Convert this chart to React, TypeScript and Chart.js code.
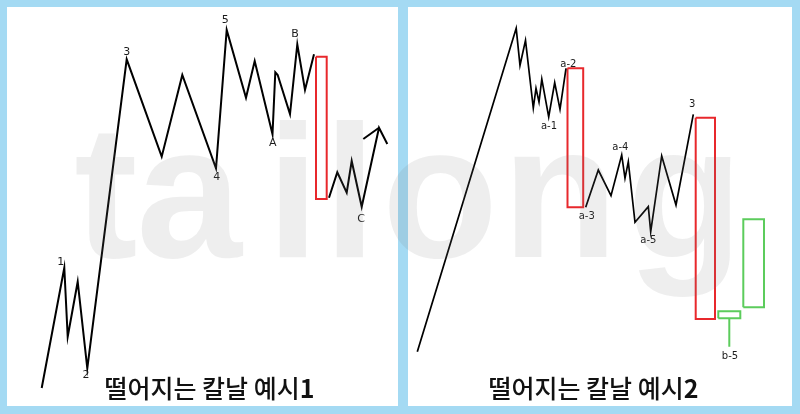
import React, { useEffect, useRef } from "react";
import { Chart, registerables } from "chart.js";

Chart.register(...registerables);

// ---------- Example 1: impulse 1-5, A-B, one large bearish candle, then C ----------
const ex1LegOneTime = [34.7, 57.3, 60.7, 70.7, 80.3, 119.7, 154.7, 175.3, 209, 219.7, 239, 247.7, 265.5, 268.3, 270.7, 283, 290.3, 298, 307];
const ex1LegOnePrice = [18, 138.3, 69.3, 124.3, 37.7, 346.7, 249.3, 331, 237.7, 376, 308.3, 345, 271.7, 333.7, 331, 292, 361.7, 316, 351.7];
const ex1LegTwoTime = [322, 330.3, 339.7, 344.7, 354.7, 372, 380.3];
const ex1LegTwoPrice = [208.3, 233.7, 213.3, 245, 199.3, 278.3, 262];
const ex1BarbTime = [356.3, 372];
const ex1BarbPrice = [267, 278.3];
const ex1CandleStart = [309];
const ex1CandleEnd = [319.7];
const ex1CandleOpen = [349.3];
const ex1CandleClose = [207];
const ex1CandleLow = [207];
const ex1LabelText = ["1", "2", "3", "4", "5", "A", "B", "C"];
const ex1LabelTime = [53.7, 79, 119.7, 209.7, 218.3, 265.7, 288, 354];
const ex1LabelPrice = [144, 31, 353.7, 229.3, 386, 263.3, 371.7, 186.7];

// ---------- Example 2: top, a-1 ... a-5, wave 3, big red candle, green b-5 candles ----------
const ex2LegOneTime = [9.3, 108.2, 112, 117.5, 125.3, 128, 131, 133.8, 140.7, 146.7, 152, 158];
const ex2LegOnePrice = [54.3, 377.7, 340.7, 365.7, 298, 317.7, 304, 326.8, 289, 323.3, 296.7, 337.7];
const ex2LegTwoTime = [177.7, 190.3, 203, 213.7, 217, 220.3, 227, 240.3, 242.7, 253.7, 268, 285.3];
const ex2LegTwoPrice = [198.7, 236, 210.3, 251, 227.7, 244.3, 183.7, 199.3, 174.3, 250, 201, 291.7];
const ex2CandleStart = [159.5, 287.7, 310.3, 335.3];
const ex2CandleEnd = [175.2, 307, 332.3, 356];
const ex2CandleOpen = [337.7, 288.3, 87.7, 98.7];
const ex2CandleClose = [198.7, 87, 94.7, 186.7];
const ex2CandleLow = [198.7, 87, 59.3, 98.7];
const ex2LabelText = ["a-1", "a-2", "a-3", "a-4", "a-5", "3", "b-5"];
const ex2LabelTime = [141, 160.3, 178.7, 212.3, 240.3, 284.3, 322];
const ex2LabelPrice = [280, 342, 189.3, 258.3, 165.3, 301.7, 49.3];

const BLUE = "rgb(164,218,243)";
const RED = "#e8282c";
const GREEN = "#5ccc5c";

type Pt = { x: number; y: number };

const zip = (t: number[], p: number[]): Pt[] => t.map((v, i) => ({ x: v, y: p[i] }));

// one outlined candle body (plus wick when the low sits below the body)
function candleDatasets(
  start: number[], end: number[], open: number[], close: number[], low: number[], lineWidth: number
) {
  const out: any[] = [];
  start.forEach((s, i) => {
    const e = end[i];
    const o = open[i];
    const c = close[i];
    const color = c >= o ? GREEN : RED;
    out.push({
      data: [
        { x: s, y: o }, { x: e, y: o }, { x: e, y: c }, { x: s, y: c }, { x: s, y: o },
      ],
      borderColor: color,
      borderWidth: lineWidth,
      borderJoinStyle: "miter",
      showLine: true,
      pointRadius: 0,
    });
    const bodyLow = Math.min(o, c);
    if (low[i] < bodyLow) {
      const mid = (s + e) / 2;
      out.push({
        data: [{ x: mid, y: bodyLow }, { x: mid, y: low[i] }],
        borderColor: color,
        borderWidth: lineWidth,
        showLine: true,
        pointRadius: 0,
      });
    }
  });
  return out;
}

function pathDataset(t: number[], p: number[], width: number) {
  return {
    data: zip(t, p),
    borderColor: "#000",
    borderWidth: width,
    borderJoinStyle: "miter",
    showLine: true,
    pointRadius: 0,
  };
}

const waveLabels = {
  id: "waveLabels",
  afterDatasetsDraw(chart: any, _args: any, opts: any) {
    const { ctx } = chart;
    const xs = chart.scales.x;
    const ys = chart.scales.y;
    ctx.save();
    ctx.font = opts.font;
    ctx.fillStyle = opts.color;
    ctx.textAlign = "center";
    ctx.textBaseline = "middle";
    (opts.texts as string[]).forEach((txt, i) => {
      ctx.fillText(txt, xs.getPixelForValue(opts.times[i]), ys.getPixelForValue(opts.prices[i]));
    });
    ctx.restore();
  },
};

function WaveChart(props: {
  width: number;
  height: number;
  datasets: any[];
  texts: string[];
  times: number[];
  prices: number[];
  font: string;
}) {
  const ref = useRef<HTMLCanvasElement | null>(null);
  useEffect(() => {
    if (!ref.current) return;
    const chart = new Chart(ref.current, {
      type: "scatter",
      data: { datasets: props.datasets },
      options: {
        animation: false,
        responsive: false,
        devicePixelRatio: 1,
        events: [],
        layout: { padding: 0 },
        elements: { line: { tension: 0 }, point: { radius: 0 } },
        scales: {
          x: { type: "linear", display: false, min: 0, max: props.width },
          y: { type: "linear", display: false, min: 0, max: props.height },
        },
        plugins: {
          legend: { display: false },
          tooltip: { enabled: false },
          // @ts-ignore custom plugin options
          waveLabels: {
            texts: props.texts,
            times: props.times,
            prices: props.prices,
            font: props.font,
            color: "#1b1b1b",
          },
        },
      } as any,
      plugins: [waveLabels],
    });
    return () => chart.destroy();
  }, []);
  return (
    <canvas
      ref={ref}
      width={props.width}
      height={props.height}
      style={{ display: "block", width: props.width, height: props.height }}
    />
  );
}

const watermark: { ch: string; cx: number }[] = [
  { ch: "t", cx: 106 },
  { ch: "a", cx: 189 },
  { ch: "i", cx: 293 },
  { ch: "l", cx: 350 },
  { ch: "o", cx: 440 },
  { ch: "n", cx: 560 },
  { ch: "g", cx: 685 },
];

export default function App() {
  const W1 = 391;
  const W2 = 384;
  const H = 399;

  const ex1Sets = [
    pathDataset(ex1LegOneTime, ex1LegOnePrice, 2),
    pathDataset(ex1LegTwoTime, ex1LegTwoPrice, 2),
    pathDataset(ex1BarbTime, ex1BarbPrice, 2),
    ...candleDatasets(ex1CandleStart, ex1CandleEnd, ex1CandleOpen, ex1CandleClose, ex1CandleLow, 2),
  ];
  const ex2Sets = [
    pathDataset(ex2LegOneTime, ex2LegOnePrice, 1.7),
    pathDataset(ex2LegTwoTime, ex2LegTwoPrice, 1.7),
    ...candleDatasets(ex2CandleStart, ex2CandleEnd, ex2CandleOpen, ex2CandleClose, ex2CandleLow, 2),
  ];

  const captionStyle: React.CSSProperties = {
    position: "absolute",
    top: 372,
    transform: "translateX(-50%)",
    whiteSpace: "nowrap",
    fontFamily: "'Noto Sans CJK KR', sans-serif",
    fontSize: 25,
    lineHeight: "30px",
    fontWeight: 500,
    color: "#111",
  };

  return (
    <div
      style={{
        position: "fixed",
        left: 0,
        top: 0,
        width: 800,
        height: 414,
        background: BLUE,
        overflow: "hidden",
      }}
    >
      <div style={{ position: "absolute", left: 7, top: 7, width: W1, height: H, background: "#fff" }}>
        <WaveChart
          width={W1}
          height={H}
          datasets={ex1Sets}
          texts={ex1LabelText}
          times={ex1LabelTime}
          prices={ex1LabelPrice}
          font="11px 'DejaVu Sans', sans-serif"
        />
      </div>
      <div style={{ position: "absolute", left: 408, top: 7, width: W2, height: H, background: "#fff" }}>
        <WaveChart
          width={W2}
          height={H}
          datasets={ex2Sets}
          texts={ex2LabelText}
          times={ex2LabelTime}
          prices={ex2LabelPrice}
          font="10px 'DejaVu Sans', sans-serif"
        />
      </div>

      <div style={{ ...captionStyle, left: 209.5 }}>
        떨어지는 칼날 예시<span style={{ fontWeight: 700 }}>1</span>
      </div>
      <div style={{ ...captionStyle, left: 593.5 }}>
        떨어지는 칼날 예시<span style={{ fontWeight: 700 }}>2</span>
      </div>

      {watermark.map((w) => (
        <span
          key={w.ch}
          style={{
            position: "absolute",
            left: w.cx,
            top: 96,
            transform: "translateX(-50%)",
            fontFamily: "'Liberation Sans', Arial, sans-serif",
            fontWeight: 700,
            fontSize: 190,
            lineHeight: "190px",
            color: "rgba(120,120,120,0.13)",
            pointerEvents: "none",
          }}
        >
          {w.ch}
        </span>
      ))}
    </div>
  );
}
